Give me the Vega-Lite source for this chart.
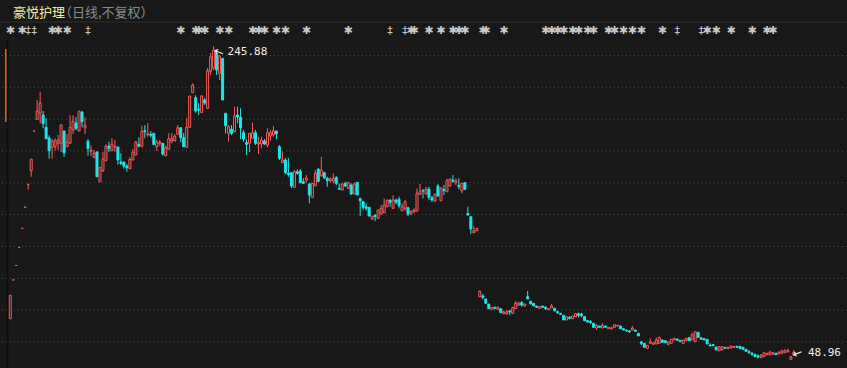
{
"$schema": "https://vega.github.io/schema/vega-lite/v6.json",
"width": 847, "height": 368, "autosize": {"type": "none"}, "padding": 0,
"background": "#181818",
"config": {"view": {"stroke": null}},
"datasets": {
"k": [
{"i":0,"o":74.63,"h":89.33,"l":74.63,"c":89.33},{"i":1,"o":98.98,"h":98.98,"l":98.98,"c":98.98},{"i":2,"o":108.1,"h":108.1,"l":108.1,"c":108.1},{"i":3,"o":119.41,"h":119.41,"l":119.41,"c":119.41},{"i":4,"o":131.39,"h":131.39,"l":131.39,"c":131.39},{"i":5,"o":144.62,"h":144.62,"l":144.62,"c":144.62},{"i":6,"o":159.07,"h":159.07,"l":155.68,"c":159.07},{"i":7,"o":167.6,"h":174.96,"l":163.83,"c":174.96},{"i":8,"o":192.55,"h":192.55,"l":192.55,"c":192.55},{"i":9,"o":199.91,"h":212.04,"l":199.91,"c":205.13},
{"i":10,"o":203.68,"h":217.07,"l":197.4,"c":210.16},{"i":11,"o":202.61,"h":205.13,"l":194.25,"c":197.15},{"i":12,"o":194.88,"h":200.54,"l":187.72,"c":187.72},{"i":13,"o":188.16,"h":189.85,"l":175.15,"c":180.18},{"i":14,"o":182.32,"h":187.53,"l":175.15,"c":186.28},{"i":15,"o":182.7,"h":187.97,"l":180.18,"c":186.46},{"i":16,"o":184.83,"h":190.04,"l":180.62,"c":186.9},{"i":17,"o":184.83,"h":196.77,"l":179.37,"c":196.33},{"i":18,"o":192.55,"h":192.55,"l":176.41,"c":178.93},{"i":19,"o":182.7,"h":190.67,"l":182.7,"c":185.65},
{"i":20,"o":184.83,"h":202.43,"l":184.83,"c":194.88},{"i":21,"o":193.18,"h":202.43,"l":190.67,"c":198.65},{"i":22,"o":197.59,"h":201.17,"l":193.18,"c":194.25},{"i":23,"o":192.55,"h":205.32,"l":192.55,"c":204.94},{"i":24,"o":204.5,"h":205.32,"l":194.88,"c":198.4},{"i":25,"o":194.63,"h":201.17,"l":190.67,"c":196.14},{"i":26,"o":186.09,"h":187.53,"l":177.04,"c":181.44},{"i":27,"o":179.55,"h":183.51,"l":176.85,"c":180.62},{"i":28,"o":176.03,"h":180.62,"l":175.4,"c":178.55},{"i":29,"o":179.37,"h":179.99,"l":163.83,"c":163.83},
{"i":30,"o":160.68,"h":169.74,"l":160.68,"c":169.74},{"i":31,"o":167.6,"h":179.37,"l":166.78,"c":174.96},{"i":32,"o":173.89,"h":184.2,"l":173.89,"c":182.95},{"i":33,"o":183.14,"h":185.84,"l":179.37,"c":181.44},{"i":34,"o":180.18,"h":187.97,"l":180.18,"c":184.2},{"i":35,"o":182.51,"h":186.9,"l":179.55,"c":182.95},{"i":36,"o":182.51,"h":182.51,"l":171.37,"c":174.33},{"i":37,"o":173.07,"h":178.55,"l":171.18,"c":172.25},{"i":38,"o":173.07,"h":173.07,"l":168.86,"c":170.55},{"i":39,"o":170.55,"h":171.62,"l":166.97,"c":169.48},
{"i":40,"o":168.86,"h":176.03,"l":168.86,"c":174.77},{"i":41,"o":174.33,"h":181.25,"l":174.33,"c":179.18},{"i":42,"o":177.48,"h":186.28,"l":177.48,"c":185.65},{"i":43,"o":184.2,"h":188.6,"l":182.32,"c":183.14},{"i":44,"o":182.7,"h":195.89,"l":182.7,"c":192.36},{"i":45,"o":192.74,"h":196.14,"l":187.97,"c":192.11},{"i":46,"o":190.23,"h":197.59,"l":188.97,"c":190.85},{"i":47,"o":190.5,"h":192.5,"l":188.5,"c":189.8},{"i":48,"o":191.1,"h":191.1,"l":183.95,"c":183.95},{"i":49,"o":182.7,"h":186.9,"l":179.99,"c":185.46},
{"i":50,"o":184.83,"h":186.9,"l":183.14,"c":185.65},{"i":51,"o":184.83,"h":184.83,"l":177.04,"c":178.11},{"i":52,"o":177.04,"h":183.14,"l":177.04,"c":182.07},{"i":53,"o":181.06,"h":191.1,"l":181.06,"c":187.72},{"i":54,"o":186.28,"h":191.29,"l":184.83,"c":187.72},{"i":55,"o":186.28,"h":190.48,"l":186.28,"c":189.41},{"i":56,"o":190.48,"h":196.33,"l":190.48,"c":194.63},{"i":57,"o":194.63,"h":194.63,"l":185.65,"c":188.34},{"i":58,"o":188.34,"h":191.29,"l":182.7,"c":182.7},{"i":59,"o":182.32,"h":200.73,"l":182.32,"c":194.88},
{"i":60,"o":194.88,"h":214.55,"l":194.88,"c":214.55},{"i":61,"o":216.63,"h":222.53,"l":216.63,"c":221.46},{"i":62,"o":213.49,"h":215.0,"l":204.06,"c":205.13},{"i":63,"o":206.39,"h":209.97,"l":202.61,"c":205.76},{"i":64,"o":204.06,"h":215.0,"l":204.06,"c":214.6},{"i":65,"o":212.04,"h":213.3,"l":208.9,"c":210.16},{"i":66,"o":206.83,"h":232.15,"l":206.83,"c":230.26},{"i":67,"o":230.26,"h":241.57,"l":227.75,"c":239.25},{"i":68,"o":232.15,"h":245.88,"l":230.89,"c":243.45},{"i":69,"o":241.38,"h":243.45,"l":227.75,"c":230.89},
{"i":70,"o":228.82,"h":240.31,"l":224.61,"c":239.25},{"i":71,"o":238.24,"h":238.24,"l":212.04,"c":212.04},{"i":72,"o":203.68,"h":203.68,"l":191.1,"c":195.89},{"i":73,"o":191.1,"h":196.33,"l":185.84,"c":195.26},{"i":74,"o":193.62,"h":196.33,"l":190.04,"c":191.1},{"i":75,"o":192.11,"h":207.83,"l":192.11,"c":201.99},{"i":76,"o":202.61,"h":207.83,"l":197.4,"c":201.36},{"i":77,"o":201.17,"h":206.83,"l":187.34,"c":194.63},{"i":78,"o":191.48,"h":193.18,"l":185.84,"c":187.53},{"i":79,"o":185.21,"h":187.34,"l":177.48,"c":184.2},
{"i":80,"o":184.83,"h":191.1,"l":179.18,"c":191.1},{"i":81,"o":187.97,"h":197.77,"l":187.97,"c":191.48},{"i":82,"o":191.48,"h":193.18,"l":183.77,"c":184.83},{"i":83,"o":184.39,"h":188.97,"l":178.11,"c":185.21},{"i":84,"o":184.39,"h":188.97,"l":181.69,"c":186.9},{"i":85,"o":186.28,"h":187.53,"l":183.77,"c":184.39},{"i":86,"o":183.77,"h":194.25,"l":182.32,"c":191.48},{"i":87,"o":189.41,"h":193.18,"l":186.46,"c":191.48},{"i":88,"o":190.04,"h":195.7,"l":188.97,"c":192.74},{"i":89,"o":192.55,"h":192.55,"l":187.53,"c":190.85},
{"i":90,"o":182.7,"h":183.77,"l":174.33,"c":175.4},{"i":91,"o":172.63,"h":179.55,"l":172.44,"c":174.33},{"i":92,"o":174.33,"h":175.59,"l":165.52,"c":166.34},{"i":93,"o":166.15,"h":175.59,"l":163.83,"c":165.21},{"i":94,"o":166.34,"h":166.78,"l":156.71,"c":157.97},{"i":95,"o":157.15,"h":168.04,"l":157.15,"c":166.97},{"i":96,"o":166.97,"h":168.48,"l":165.08,"c":165.96},{"i":97,"o":167.41,"h":168.67,"l":159.86,"c":160.05},{"i":98,"o":160.68,"h":162.82,"l":159.23,"c":159.67},{"i":99,"o":161.75,"h":164.9,"l":160.05,"c":163.01},
{"i":100,"o":159.23,"h":159.86,"l":147.09,"c":152.31},{"i":101,"o":150.86,"h":159.67,"l":150.86,"c":159.67},{"i":102,"o":158.16,"h":168.04,"l":158.16,"c":165.96},{"i":103,"o":168.48,"h":169.3,"l":160.49,"c":160.93},{"i":104,"o":164.27,"h":176.41,"l":164.27,"c":168.04},{"i":105,"o":166.34,"h":166.97,"l":162.19,"c":163.2},{"i":106,"o":162.82,"h":163.83,"l":157.53,"c":161.31},{"i":107,"o":161.3,"h":163.5,"l":160.2,"c":162.4},{"i":108,"o":161.31,"h":165.96,"l":159.67,"c":162.82},{"i":109,"o":163.2,"h":164.27,"l":158.6,"c":159.67},
{"i":110,"o":156.52,"h":159.67,"l":155.89,"c":155.89},{"i":111,"o":155.45,"h":160.05,"l":155.45,"c":159.23},{"i":112,"o":159.67,"h":160.68,"l":157.53,"c":157.97},{"i":113,"o":156.52,"h":160.68,"l":156.52,"c":160.05},{"i":114,"o":158.6,"h":159.67,"l":152.31,"c":152.94},{"i":115,"o":152.94,"h":160.05,"l":152.94,"c":159.23},{"i":116,"o":160.3,"h":160.3,"l":152.31,"c":152.31},{"i":117,"o":149.98,"h":150.61,"l":139.12,"c":148.73},{"i":118,"o":148.1,"h":148.73,"l":142.89,"c":144.59},{"i":119,"o":144.96,"h":147.09,"l":142.45,"c":143.96},
{"i":120,"o":144.59,"h":144.59,"l":139.12,"c":139.12},{"i":121,"o":137.42,"h":139.12,"l":136.6,"c":139.12},{"i":122,"o":139.43,"h":140.37,"l":135.98,"c":138.8},{"i":123,"o":137.67,"h":142.89,"l":137.67,"c":142.89},{"i":124,"o":140.37,"h":146.03,"l":140.37,"c":143.96},{"i":125,"o":141.19,"h":150.23,"l":141.19,"c":146.03},{"i":126,"o":144.96,"h":149.21,"l":144.96,"c":149.21},{"i":127,"o":149.21,"h":149.6,"l":144.96,"c":147.72},{"i":128,"o":143.96,"h":152.31,"l":143.96,"c":149.21},{"i":129,"o":149.21,"h":150.0,"l":146.5,"c":147.9},
{"i":130,"o":149.6,"h":151.24,"l":143.96,"c":145.59},{"i":131,"o":142.45,"h":147.09,"l":142.45,"c":144.96},{"i":132,"o":143.96,"h":149.21,"l":142.45,"c":148.1},{"i":133,"o":144.34,"h":144.96,"l":139.12,"c":140.37},{"i":134,"o":140.37,"h":142.89,"l":139.74,"c":141.82},{"i":135,"o":141.82,"h":143.96,"l":141.19,"c":142.89},{"i":136,"o":142.26,"h":156.52,"l":142.26,"c":153.38},{"i":137,"o":152.75,"h":159.23,"l":152.75,"c":154.38},{"i":138,"o":155.45,"h":155.45,"l":150.23,"c":154.82},{"i":139,"o":152.94,"h":157.53,"l":152.94,"c":155.89},
{"i":140,"o":156.08,"h":157.53,"l":149.21,"c":150.86},{"i":141,"o":150.61,"h":151.68,"l":148.1,"c":149.21},{"i":142,"o":148.54,"h":152.94,"l":148.1,"c":152.94},{"i":143,"o":157.97,"h":159.23,"l":151.68,"c":151.68},{"i":144,"o":148.73,"h":157.53,"l":148.73,"c":156.52},{"i":145,"o":155.8,"h":158.6,"l":152.31,"c":155.14},{"i":146,"o":154.38,"h":162.57,"l":154.38,"c":161.31},{"i":147,"o":157.97,"h":163.01,"l":157.97,"c":162.19},{"i":148,"o":161.75,"h":164.9,"l":160.05,"c":160.93},{"i":149,"o":160.05,"h":162.82,"l":158.6,"c":161.31},
{"i":150,"o":158.45,"h":162.82,"l":155.89,"c":157.53},{"i":151,"o":155.01,"h":159.67,"l":153.38,"c":159.67},{"i":152,"o":160.05,"h":160.05,"l":155.89,"c":155.89},{"i":153,"o":140.69,"h":144.96,"l":139.74,"c":139.74},{"i":154,"o":138.68,"h":138.68,"l":127.79,"c":130.95},{"i":155,"o":128.62,"h":132.83,"l":128.62,"c":129.88},{"i":156,"o":129.88,"h":131.39,"l":129.88,"c":131.39},
{"i":157,"o":88.45,"h":92.04,"l":88.45,"c":92.04},{"i":158,"o":88.89,"h":90.16,"l":86.82,"c":88.08},{"i":159,"o":87.01,"h":87.01,"l":84.3,"c":84.3},{"i":160,"o":83.86,"h":83.86,"l":80.91,"c":80.91},{"i":161,"o":80.53,"h":81.79,"l":80.53,"c":81.79},{"i":162,"o":81.79,"h":82.16,"l":80.53,"c":81.16},{"i":163,"o":80.53,"h":82.42,"l":80.09,"c":81.79},{"i":164,"o":80.91,"h":80.91,"l":78.4,"c":78.4},{"i":165,"o":77.77,"h":79.65,"l":77.39,"c":78.84},{"i":166,"o":78.02,"h":80.09,"l":76.95,"c":79.02},
{"i":167,"o":79.46,"h":80.09,"l":76.95,"c":78.84},{"i":168,"o":78.02,"h":82.16,"l":77.58,"c":81.54},{"i":169,"o":80.91,"h":85.75,"l":80.91,"c":84.3},{"i":170,"o":83.23,"h":85.31,"l":82.6,"c":84.49},{"i":171,"o":84.68,"h":85.75,"l":82.16,"c":83.23},{"i":172,"o":82.6,"h":83.86,"l":82.16,"c":83.86},{"i":173,"o":88.45,"h":92.04,"l":87.01,"c":87.01},{"i":174,"o":85.56,"h":85.56,"l":83.86,"c":83.86},{"i":175,"o":84.3,"h":84.3,"l":82.6,"c":82.6},{"i":176,"o":82.6,"h":82.6,"l":81.79,"c":81.79},
{"i":177,"o":81.16,"h":82.6,"l":80.91,"c":82.16},{"i":178,"o":82.6,"h":82.6,"l":81.79,"c":81.79},{"i":179,"o":81.79,"h":82.6,"l":80.09,"c":80.91},{"i":180,"o":80.28,"h":80.91,"l":80.28,"c":80.91},{"i":181,"o":81.35,"h":83.86,"l":81.35,"c":82.6},{"i":182,"o":81.16,"h":81.16,"l":79.46,"c":79.46},{"i":183,"o":79.02,"h":79.65,"l":77.58,"c":78.4},{"i":184,"o":78.02,"h":78.21,"l":76.95,"c":77.39},{"i":185,"o":76.77,"h":76.77,"l":73.81,"c":73.81},{"i":186,"o":73.81,"h":75.89,"l":73.81,"c":75.89},
{"i":187,"o":75.51,"h":76.33,"l":74.25,"c":74.88},{"i":188,"o":74.63,"h":76.33,"l":74.63,"c":76.33},{"i":189,"o":75.89,"h":77.77,"l":75.89,"c":77.77},{"i":190,"o":77.77,"h":78.4,"l":75.51,"c":76.77},{"i":191,"o":77.58,"h":78.4,"l":75.51,"c":76.51},{"i":192,"o":75.89,"h":75.89,"l":73.37,"c":73.37},{"i":193,"o":73.37,"h":73.37,"l":72.12,"c":72.56},{"i":194,"o":72.75,"h":73.81,"l":71.3,"c":72.12},{"i":195,"o":71.74,"h":71.74,"l":69.23,"c":69.23},{"i":196,"o":68.79,"h":71.3,"l":67.53,"c":70.48},
{"i":197,"o":70.04,"h":70.04,"l":69.23,"c":69.23},{"i":198,"o":68.79,"h":71.74,"l":68.79,"c":70.48},{"i":199,"o":70.04,"h":70.04,"l":69.23,"c":69.23},{"i":200,"o":68.35,"h":69.23,"l":68.35,"c":69.23},{"i":201,"o":68.16,"h":68.98,"l":68.16,"c":68.98},{"i":202,"o":69.23,"h":70.86,"l":69.23,"c":70.86},{"i":203,"o":70.04,"h":70.48,"l":70.04,"c":70.48},{"i":204,"o":70.04,"h":70.04,"l":68.35,"c":68.35},{"i":205,"o":68.35,"h":68.35,"l":67.53,"c":67.53},{"i":206,"o":67.53,"h":67.53,"l":66.59,"c":66.9},
{"i":207,"o":66.9,"h":67.53,"l":65.96,"c":66.27},{"i":208,"o":67.53,"h":70.04,"l":67.53,"c":68.79},{"i":209,"o":67.53,"h":67.53,"l":66.4,"c":66.72},{"i":210,"o":65.45,"h":65.64,"l":63.76,"c":63.76},{"i":211,"o":59.99,"h":60.8,"l":58.1,"c":59.17},{"i":212,"o":59.17,"h":59.17,"l":56.66,"c":56.66},{"i":213,"o":56.03,"h":57.91,"l":56.03,"c":57.91},{"i":214,"o":59.17,"h":62.31,"l":59.17,"c":60.18},{"i":215,"o":58.54,"h":59.55,"l":58.54,"c":59.55},{"i":216,"o":58.73,"h":62.69,"l":58.73,"c":61.25},
{"i":217,"o":59.17,"h":62.94,"l":59.17,"c":62.94},{"i":218,"o":61.25,"h":61.25,"l":59.8,"c":59.8},{"i":219,"o":60.8,"h":60.8,"l":59.55,"c":59.55},{"i":220,"o":58.54,"h":60.18,"l":57.91,"c":60.18},{"i":221,"o":59.17,"h":61.68,"l":59.17,"c":61.68},{"i":222,"o":61.25,"h":62.31,"l":61.25,"c":62.31},{"i":223,"o":61.87,"h":61.87,"l":61.06,"c":61.06},{"i":224,"o":61.06,"h":61.06,"l":60.18,"c":60.18},{"i":225,"o":59.17,"h":61.25,"l":59.17,"c":61.25},{"i":226,"o":60.8,"h":62.31,"l":60.8,"c":62.31},
{"i":227,"o":62.69,"h":62.69,"l":60.8,"c":60.8},{"i":228,"o":61.25,"h":65.83,"l":61.25,"c":64.57},{"i":229,"o":60.18,"h":66.46,"l":60.18,"c":66.46},{"i":230,"o":66.08,"h":66.08,"l":62.94,"c":62.94},{"i":231,"o":62.69,"h":62.69,"l":61.68,"c":61.68},{"i":232,"o":62.06,"h":62.06,"l":61.25,"c":61.25},{"i":233,"o":61.68,"h":61.68,"l":58.73,"c":58.73},{"i":234,"o":58.1,"h":59.17,"l":57.48,"c":57.48},{"i":235,"o":58.35,"h":58.35,"l":57.7,"c":57.7},{"i":236,"o":56.85,"h":56.85,"l":54.97,"c":54.97},
{"i":237,"o":54.53,"h":57.04,"l":54.53,"c":57.04},{"i":238,"o":54.97,"h":57.04,"l":54.97,"c":57.04},{"i":239,"o":56.66,"h":56.66,"l":56.03,"c":56.03},{"i":240,"o":55.78,"h":56.66,"l":55.78,"c":56.66},{"i":241,"o":56.22,"h":57.48,"l":56.22,"c":57.48},{"i":242,"o":56.66,"h":57.04,"l":56.66,"c":57.04},{"i":243,"o":57.29,"h":57.29,"l":56.66,"c":56.66},{"i":244,"o":57.29,"h":57.29,"l":55.78,"c":55.78},{"i":245,"o":56.66,"h":56.66,"l":55.4,"c":55.4},{"i":246,"o":55.4,"h":55.4,"l":54.15,"c":54.15},
{"i":247,"o":53.9,"h":54.97,"l":52.45,"c":53.27},{"i":248,"o":52.89,"h":53.71,"l":51.2,"c":52.26},{"i":249,"o":52.26,"h":52.26,"l":50.76,"c":50.76},{"i":250,"o":51.2,"h":52.26,"l":49.75,"c":50.38},{"i":251,"o":50.38,"h":52.45,"l":49.75,"c":51.64},{"i":252,"o":50.76,"h":53.27,"l":50.76,"c":53.27},{"i":253,"o":52.01,"h":52.89,"l":52.01,"c":52.89},{"i":254,"o":51.83,"h":54.53,"l":51.83,"c":53.71},{"i":255,"o":52.26,"h":53.27,"l":52.26,"c":53.27},{"i":256,"o":52.89,"h":52.89,"l":52.01,"c":52.01},
{"i":257,"o":52.45,"h":53.71,"l":52.45,"c":53.71},{"i":258,"o":52.89,"h":54.53,"l":52.89,"c":54.53},{"i":259,"o":53.27,"h":55.4,"l":53.27,"c":54.53},{"i":260,"o":53.71,"h":55.78,"l":53.71,"c":54.53},{"i":261,"o":49.12,"h":50.76,"l":48.96,"c":50.76},{"i":262,"o":51.83,"h":54.97,"l":51.83,"c":53.71}
],
"ev": [
{"i":0,"k":"✱"},{"i":4,"k":"✱"},{"i":6,"k":"‡"},{"i":8,"k":"‡"},{"i":14,"k":"✱"},{"i":16,"k":"✱"},{"i":19,"k":"✱"},{"i":26,"k":"‡"},{"i":57,"k":"✱"},{"i":62,"k":"✱"},{"i":63,"k":"✱"},{"i":65,"k":"✱"},{"i":70,"k":"✱"},{"i":73,"k":"✱"},{"i":81,"k":"✱"},{"i":83,"k":"✱"},{"i":85,"k":"✱"},{"i":89,"k":"✱"},{"i":92,"k":"✱"},{"i":99,"k":"✱"},{"i":113,"k":"✱"},{"i":127,"k":"‡"},{"i":132,"k":"‡"},{"i":134,"k":"✱"},{"i":135,"k":"✱"},{"i":140,"k":"✱"},{"i":144,"k":"✱"},{"i":148,"k":"✱"},{"i":150,"k":"✱"},{"i":152,"k":"✱"},{"i":158,"k":"✱"},{"i":159,"k":"✱"},{"i":165,"k":"✱"},{"i":179,"k":"✱"},{"i":181,"k":"✱"},{"i":183,"k":"✱"},{"i":185,"k":"✱"},{"i":188,"k":"✱"},{"i":190,"k":"✱"},{"i":193,"k":"✱"},{"i":195,"k":"✱"},{"i":200,"k":"✱"},{"i":202,"k":"✱"},{"i":205,"k":"✱"},{"i":208,"k":"✱"},{"i":211,"k":"✱"},{"i":218,"k":"✱"},{"i":223,"k":"‡"},{"i":231,"k":"‡"},{"i":233,"k":"✱"},{"i":236,"k":"✱"},{"i":241,"k":"✱"},{"i":248,"k":"✱"},{"i":253,"k":"✱"},{"i":255,"k":"✱"}
],
"grid": [{"g":60},{"g":80},{"g":100},{"g":120},{"g":140},{"g":160},{"g":180},{"g":200},{"g":220},{"g":240}]
},
"layer": [
{
"data": {"name": "grid"},
"mark": {"type": "rule", "color": "#4c4c4c", "strokeWidth": 1, "strokeDash": [1, 3]},
"encoding": {"y": {"field": "g", "type": "quantitative", "scale": {"domain": [43.65, 274.87], "nice": false, "zero": false}, "axis": null}}
},
{
"data": {"values": [{}]},
"mark": {"type": "rule", "color": "#303030", "strokeWidth": 1},
"encoding": {"y": {"datum": 261.05, "type": "quantitative", "axis": null}}
},
{
"data": {"name": "k"},
"mark": {"type": "rule", "strokeWidth": 1},
"encoding": {
"x": {"field": "i", "type": "quantitative", "scale": {"domain": [-1.751, 278.09], "nice": false, "zero": false}, "axis": null},
"y": {"field": "l", "type": "quantitative", "axis": null},
"y2": {"field": "h"},
"color": {"condition": {"test": "datum.c >= datum.o", "value": "#ff5c5c"}, "value": "#1fe6e8"}
}
},
{
"data": {"name": "k"},
"mark": {"type": "bar", "size": 2, "strokeWidth": 1},
"encoding": {
"x": {"field": "i", "type": "quantitative", "axis": null},
"y": {"field": "o", "type": "quantitative", "axis": null},
"y2": {"field": "c"},
"fill": {"condition": {"test": "datum.c >= datum.o", "value": "#181818"}, "value": "#1fe6e8"},
"stroke": {"condition": {"test": "datum.c >= datum.o", "value": "#ff5c5c"}, "value": "#1fe6e8"}
}
},
{
"data": {"name": "ev"},
"mark": {"type": "text", "color": "#c8c8c8", "fontSize": 11, "font": "DejaVu Sans", "baseline": "middle", "align": "center"},
"encoding": {
"x": {"field": "i", "type": "quantitative", "axis": null},
"y": {"datum": 255.7, "type": "quantitative", "axis": null},
"text": {"field": "k"}
}
},
{
"data": {"values": [{"i": 68, "p": 245.88, "t": "245.88"}]},
"layer": [
{"mark": {"type": "text", "color": "#f0f0f0", "fontSize": 11, "font": "DejaVu Sans Mono", "align": "left", "baseline": "middle", "dx": 14, "dy": 6},
 "encoding": {"x": {"field": "i", "type": "quantitative", "axis": null}, "y": {"field": "p", "type": "quantitative", "axis": null}, "text": {"field": "t"}}},
{"mark": {"type": "text", "text": "←", "color": "#f0f0f0", "fontSize": 12, "font": "DejaVu Sans", "align": "center", "baseline": "middle", "dx": 7, "dy": 3.5, "angle": 22},
 "encoding": {"x": {"field": "i", "type": "quantitative", "axis": null}, "y": {"field": "p", "type": "quantitative", "axis": null}}}
]
},
{
"data": {"values": [{"i": 261, "p": 48.96, "t": "48.96"}]},
"layer": [
{"mark": {"type": "text", "color": "#f0f0f0", "fontSize": 11, "font": "DejaVu Sans Mono", "align": "left", "baseline": "middle", "dx": 17, "dy": -7},
 "encoding": {"x": {"field": "i", "type": "quantitative", "axis": null}, "y": {"field": "p", "type": "quantitative", "axis": null}, "text": {"field": "t"}}},
{"mark": {"type": "text", "text": "←", "color": "#f0f0f0", "fontSize": 12, "font": "DejaVu Sans", "align": "center", "baseline": "middle", "dx": 8.5, "dy": -3.5, "angle": -22},
 "encoding": {"x": {"field": "i", "type": "quantitative", "axis": null}, "y": {"field": "p", "type": "quantitative", "axis": null}}}
]
},
{
"data": {"values": [{"t": "豪悦护理"}]},
"mark": {"type": "text", "color": "#f2eca2", "fontSize": 13, "font": "Noto Sans CJK SC", "align": "left", "baseline": "middle"},
"encoding": {"x": {"datum": 0.892, "type": "quantitative", "axis": null}, "y": {"datum": 267.0, "type": "quantitative", "axis": null}, "text": {"field": "t"}}
},
{
"data": {"values": [{"t": "（日线,不复权）"}]},
"mark": {"type": "text", "color": "#8a8a8a", "fontSize": 13, "font": "Noto Sans CJK SC", "align": "left", "baseline": "middle"},
"encoding": {"x": {"datum": 16.3, "type": "quantitative", "axis": null}, "y": {"datum": 267.0, "type": "quantitative", "axis": null}, "text": {"field": "t"}}
},
{
"data": {"values": [{}]},
"mark": {"type": "rule", "color": "#0c0c0c", "strokeWidth": 1.5},
"encoding": {"x": {"datum": -0.925, "type": "quantitative", "axis": null}, "y": {"datum": 249.74, "type": "quantitative", "axis": null}, "y2": {"datum": 43.65}}
},
{
"data": {"values": [{}]},
"mark": {"type": "rule", "color": "#e35d12", "strokeWidth": 1.6},
"encoding": {"x": {"datum": -1.487, "type": "quantitative", "axis": null}, "y": {"datum": 244.08, "type": "quantitative", "axis": null}, "y2": {"datum": 198.22}}
}
]
}
